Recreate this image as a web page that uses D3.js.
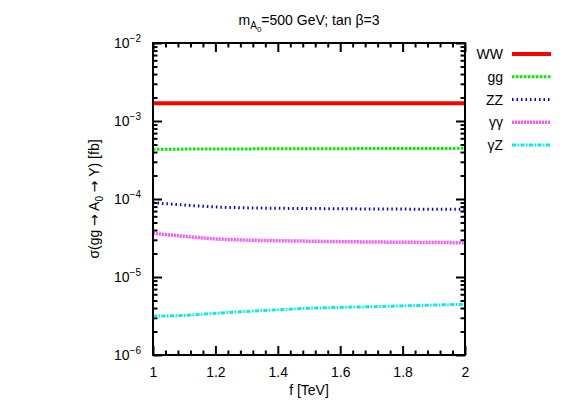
<!DOCTYPE html>
<html>
<head>
<meta charset="utf-8">
<script src="https://cdn.jsdelivr.net/npm/d3@7"></script>
<style>
    body { margin: 0; background: #fff; }
    svg { font-family: "Liberation Sans", Arial, sans-serif; }
</style>
</head>
<body>
<svg id="chart"></svg>
<script>
// f [TeV]
const fValues = [1.0, 1.1, 1.2, 1.3, 1.4, 1.5, 1.6, 1.7, 1.8, 1.9, 2.0];

// sigma(gg -> A0 -> Y) [fb]
const sigmaWW = [1.69e-3, 1.69e-3, 1.69e-3, 1.69e-3, 1.69e-3, 1.69e-3, 1.69e-3, 1.69e-3, 1.69e-3, 1.69e-3, 1.69e-3];
const sigmaGG = [4.34e-4, 4.36e-4, 4.38e-4, 4.39e-4, 4.40e-4, 4.41e-4, 4.42e-4, 4.43e-4, 4.44e-4, 4.45e-4, 4.46e-4];
const sigmaZZ = [8.97e-5, 8.37e-5, 7.90e-5, 7.70e-5, 7.60e-5, 7.55e-5, 7.50e-5, 7.45e-5, 7.42e-5, 7.40e-5, 7.38e-5];
const sigmaAA = [3.63e-5, 3.32e-5, 3.08e-5, 2.97e-5, 2.92e-5, 2.88e-5, 2.84e-5, 2.81e-5, 2.79e-5, 2.77e-5, 2.75e-5];
const sigmaAZ = [3.16e-6, 3.22e-6, 3.42e-6, 3.62e-6, 3.80e-6, 3.97e-6, 4.08e-6, 4.16e-6, 4.27e-6, 4.37e-6, 4.47e-6];

const seriesNames = ["WW", "gg", "ZZ", "γγ", "γZ"];
const xTicks = [1, 1.2, 1.4, 1.6, 1.8, 2];
const yExponents = [-6, -5, -4, -3, -2];

const series = [
    {name: seriesNames[0], values: sigmaWW, color: "#ff0000", width: 4, dash: null},
    {name: seriesNames[1], values: sigmaGG, color: "#00ee00", width: 3, dash: "2.5,1.5"},
    {name: seriesNames[2], values: sigmaZZ, color: "#0000ee", width: 3, dash: "1.5,3"},
    {name: seriesNames[3], values: sigmaAA, color: "#ff55ff", width: 3.5, dash: "2,1"},
    {name: seriesNames[4], values: sigmaAZ, color: "#00eeee", width: 3, dash: "4,1.5,1.5,1.5"}
];

const width = 574;
const height = 402;
const m = {left: 153, right: 465, top: 43, bottom: 355};

let svg = d3.select("#chart").attr("width", width).attr("height", height);

let scaleX = d3.scaleLinear().domain([1, 2]).range([m.left, m.right]);
let scaleY = d3.scaleLog().domain([1e-6, 1e-2]).range([m.bottom, m.top]);

// minor ticks
let minorX = d3.range(1, 2.0001, 0.04).filter(d => Math.abs(Math.round(d * 5) - d * 5) > 1e-6);
let minorY = [];
for (let e = -6; e < -2; e++)
    for (let k = 2; k < 10; k++)
        minorY.push(k * Math.pow(10, e));
let majorY = yExponents.map(e => Math.pow(10, e));

function addAxis(axis, tr) {
    let g = svg.append("g").attr("transform", tr).call(axis);
    g.select(".domain").remove();
    g.selectAll("line").attr("stroke", "#000").attr("stroke-width", 2);
    return g;
}

// ticks point inwards on all four sides
addAxis(d3.axisBottom(scaleX).tickValues(minorX).tickSize(-4.5).tickFormat(""), `translate(0,${m.bottom})`);
addAxis(d3.axisTop(scaleX).tickValues(minorX).tickSize(-4.5).tickFormat(""), `translate(0,${m.top})`);
addAxis(d3.axisTop(scaleX).tickValues(xTicks).tickSize(-9).tickFormat(""), `translate(0,${m.top})`);
let xAxis = addAxis(d3.axisBottom(scaleX).tickValues(xTicks).tickSize(-9).tickPadding(12)
    .tickFormat(d => d3.format("~g")(d)), `translate(0,${m.bottom})`);
xAxis.selectAll("text")
    .attr("font-size", 14)
    .attr("font-family", "Liberation Sans, Arial, sans-serif")
    .attr("fill", "#000");

addAxis(d3.axisLeft(scaleY).tickValues(minorY).tickSize(-4.5).tickFormat(""), `translate(${m.left},0)`);
addAxis(d3.axisLeft(scaleY).tickValues(majorY).tickSize(-9).tickFormat(""), `translate(${m.left},0)`);
addAxis(d3.axisRight(scaleY).tickValues(minorY).tickSize(-4.5).tickFormat(""), `translate(${m.right},0)`);
addAxis(d3.axisRight(scaleY).tickValues(majorY).tickSize(-9).tickFormat(""), `translate(${m.right},0)`);

// y tick labels 10^n
let yLab = svg.append("g")
    .selectAll("text")
    .data(yExponents)
    .join("text")
    .attr("x", 114)
    .attr("y", d => scaleY(Math.pow(10, d)) + 5)
    .attr("font-size", 14)
    .attr("fill", "#000");
yLab.append("tspan").text("10");
yLab.append("tspan").attr("dy", -6).attr("font-size", 10).text(d => "\u2212" + Math.abs(d));

// curves
let line = d3.line()
    .x((d, i) => scaleX(fValues[i]))
    .y(d => scaleY(d))
    .curve(d3.curveMonotoneX);

svg.append("g")
    .selectAll("path")
    .data(series)
    .join("path")
    .attr("d", d => line(d.values))
    .attr("fill", "none")
    .attr("stroke", d => d.color)
    .attr("stroke-width", d => d.width)
    .attr("stroke-dasharray", d => d.dash);

// frame
svg.append("rect")
    .attr("x", m.left).attr("y", m.top)
    .attr("width", m.right - m.left).attr("height", m.bottom - m.top)
    .attr("fill", "none").attr("stroke", "#000").attr("stroke-width", 2);

// legend
let legendY = d3.scalePoint().domain(seriesNames).range([54, 145]);
let legend = svg.append("g")
    .selectAll("g")
    .data(series)
    .join("g")
    .attr("transform", d => `translate(0,${legendY(d.name)})`);
legend.append("text")
    .attr("x", 503).attr("y", 5)
    .attr("text-anchor", "end")
    .attr("font-size", 14)
    .text(d => d.name);
legend.append("line")
    .attr("x1", 512).attr("x2", 551)
    .attr("stroke", d => d.color)
    .attr("stroke-width", d => d.width)
    .attr("stroke-dasharray", d => d.dash);

// title
let title = svg.append("text")
    .attr("x", (m.left + m.right) / 2).attr("y", 25)
    .attr("text-anchor", "middle")
    .attr("font-size", 14);
title.append("tspan").text("m");
title.append("tspan").attr("dy", 4).attr("font-size", 10).text("A");
title.append("tspan").attr("dy", 3).attr("font-size", 8).text("0");
title.append("tspan").attr("dy", -7).text("=500 GeV; tan β=3");

// axis titles
svg.append("text")
    .attr("x", (m.left + m.right) / 2).attr("y", 395)
    .attr("text-anchor", "middle")
    .attr("font-size", 14)
    .text("f [TeV]");

let yTitle = svg.append("text")
    .attr("transform", `translate(99,${(m.top + m.bottom) / 2}) rotate(-90)`)
    .attr("text-anchor", "middle")
    .attr("font-size", 14);
yTitle.append("tspan").text("σ(gg ");
yTitle.append("tspan").attr("font-family", "DejaVu Sans").text("→");
yTitle.append("tspan").text(" A");
yTitle.append("tspan").attr("dy", 4).attr("font-size", 10).text("0");
yTitle.append("tspan").attr("dy", -4).text(" ");
yTitle.append("tspan").attr("font-family", "DejaVu Sans").text("→");
yTitle.append("tspan").text(" Y) [fb]");
</script>
</body>
</html>
